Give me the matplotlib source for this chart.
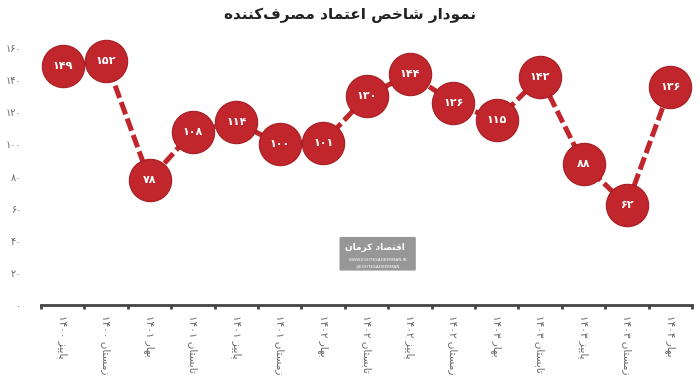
import matplotlib
matplotlib.use("Agg")
import matplotlib.pyplot as plt
from matplotlib.patches import FancyBboxPatch

# data
seasons = ["پاییز ۱۴۰۰", "زمستان ۱۴۰۰", "بهار ۱۴۰۱", "تابستان ۱۴۰۱", "پاییز ۱۴۰۱",
           "زمستان ۱۴۰۱", "بهار ۱۴۰۲", "تابستان ۱۴۰۲", "پاییز ۱۴۰۲", "زمستان ۱۴۰۲",
           "بهار ۱۴۰۳", "تابستان ۱۴۰۳", "پاییز ۱۴۰۳", "زمستان ۱۴۰۳", "بهار ۱۴۰۴"]
values = [149, 152, 78, 108, 114, 100, 101, 130, 144, 126, 115, 142, 88, 62, 136]
yticks = [0, 20, 40, 60, 80, 100, 120, 140, 160]
title = "نمودار شاخص اعتماد مصرف\u200cکننده"

# minimal arabic shaping (matplotlib does no shaping / bidi)
FORMS = {
    'ا': ('\uFE8D', '\uFE8E', None, None),
    'ب': ('\uFE8F', '\uFE90', '\uFE91', '\uFE92'),
    'پ': ('\uFB56', '\uFB57', '\uFB58', '\uFB59'),
    'ت': ('\uFE95', '\uFE96', '\uFE97', '\uFE98'),
    'خ': ('\uFEA5', '\uFEA6', '\uFEA7', '\uFEA8'),
    'د': ('\uFEA9', '\uFEAA', None, None),
    'ر': ('\uFEAD', '\uFEAE', None, None),
    'ز': ('\uFEAF', '\uFEB0', None, None),
    'س': ('\uFEB1', '\uFEB2', '\uFEB3', '\uFEB4'),
    'ش': ('\uFEB5', '\uFEB6', '\uFEB7', '\uFEB8'),
    'ص': ('\uFEB9', '\uFEBA', '\uFEBB', '\uFEBC'),
    'ع': ('\uFEC9', '\uFECA', '\uFECB', '\uFECC'),
    'ف': ('\uFED1', '\uFED2', '\uFED3', '\uFED4'),
    'ق': ('\uFED5', '\uFED6', '\uFED7', '\uFED8'),
    'ک': ('\uFB8E', '\uFB8F', '\uFB90', '\uFB91'),
    'م': ('\uFEE1', '\uFEE2', '\uFEE3', '\uFEE4'),
    'ن': ('\uFEE5', '\uFEE6', '\uFEE7', '\uFEE8'),
    'ه': ('\uFEE9', '\uFEEA', '\uFEEB', '\uFEEC'),
    'و': ('\uFEED', '\uFEEE', None, None),
    'ی': ('\uFBFC', '\uFBFD', '\uFBFE', '\uFBFF'),
}


def shape(word):
    out = []
    for i, ch in enumerate(word):
        if ch == '\u200c':
            continue
        if ch not in FORMS:
            out.append(ch)
            continue
        prev = word[i - 1] if i > 0 else None
        nxt = word[i + 1] if i < len(word) - 1 else None
        jp = prev in FORMS and FORMS[prev][2] is not None
        jn = nxt in FORMS and FORMS[ch][2] is not None
        iso, fin, ini, med = FORMS[ch]
        if jp and jn:
            out.append(med)
        elif jp:
            out.append(fin)
        elif jn:
            out.append(ini)
        else:
            out.append(iso)
    return ''.join(out)


def fa(text):
    words = text.split(' ')
    vis = []
    for w in words:
        if w.isdigit():
            vis.append(w)
        else:
            vis.append(shape(w)[::-1])
    return ' '.join(reversed(vis))


def fa_num(n):
    return str(n).translate(str.maketrans('0123456789', '۰۱۲۳۴۵۶۷۸۹'))


red = '#c0262c'
grey = '#666666'

plt.rcParams['font.family'] = ['DejaVu Sans']
fig = plt.figure(figsize=(7, 3.91), dpi=100)
ax = fig.add_axes([0.0586, 0.22, 0.93, 0.657])

x = list(range(len(values)))
ax.plot(x, values, color=red, lw=3.6, ls=(0, (2.6, 0.9)), zorder=1,
        solid_capstyle='butt')
ax.scatter(x, values, s=930, color=red, edgecolors='#a51e23', linewidths=0.8,
           zorder=2, clip_on=False)
for xi, v in zip(x, values):
    ax.text(xi, v, fa_num(v), color='white', fontsize=8, fontweight='bold',
            ha='center', va='center', zorder=3)

ax.set_xlim(-0.5, len(values) - 0.5)
ax.set_ylim(0, 160)

ax.set_xticks([i - 0.5 for i in range(len(values) + 1)], minor=True)
ax.set_xticks(x)
ax.set_xticklabels([fa(s) for s in seasons], rotation=270, fontsize=7.5,
                   color=grey, va='top', ha='center')
ax.tick_params(axis='x', which='major', length=0, pad=7)
ax.tick_params(axis='x', which='minor', length=3, width=2, color='#444444',
               direction='out')

ax.set_yticks(yticks)
ax.set_yticklabels([fa_num(t) for t in yticks], fontsize=7, color=grey)
ax.tick_params(axis='y', length=0, pad=14)

for s in ['top', 'right', 'left']:
    ax.spines[s].set_visible(False)
ax.spines['bottom'].set_color('#444444')
ax.spines['bottom'].set_linewidth(2)

fig.text(0.5, 0.96, fa(title), ha='center', va='center', fontsize=11,
         fontweight='bold', color='#222222')

# watermark logo
box = FancyBboxPatch((0.487, 0.31), 0.105, 0.082, boxstyle='round,pad=0.002',
                     transform=fig.transFigure, facecolor='#8c8c8c',
                     edgecolor='none', alpha=0.9, zorder=5)
fig.patches.append(box)
fig.text(0.535, 0.368, fa("اقتصاد کرمان"), ha='center', va='center',
         fontsize=6.5, fontweight='bold', color='white', zorder=6)
fig.text(0.54, 0.335, "WWW.EGHTESADKERMAN.IR", ha='center', va='center',
         fontsize=3, color='white', zorder=6)
fig.text(0.54, 0.32, "@EGHTESADKERMAN", ha='center', va='center',
         fontsize=3, color='white', zorder=6)

fig.savefig('out.png', dpi=100)
